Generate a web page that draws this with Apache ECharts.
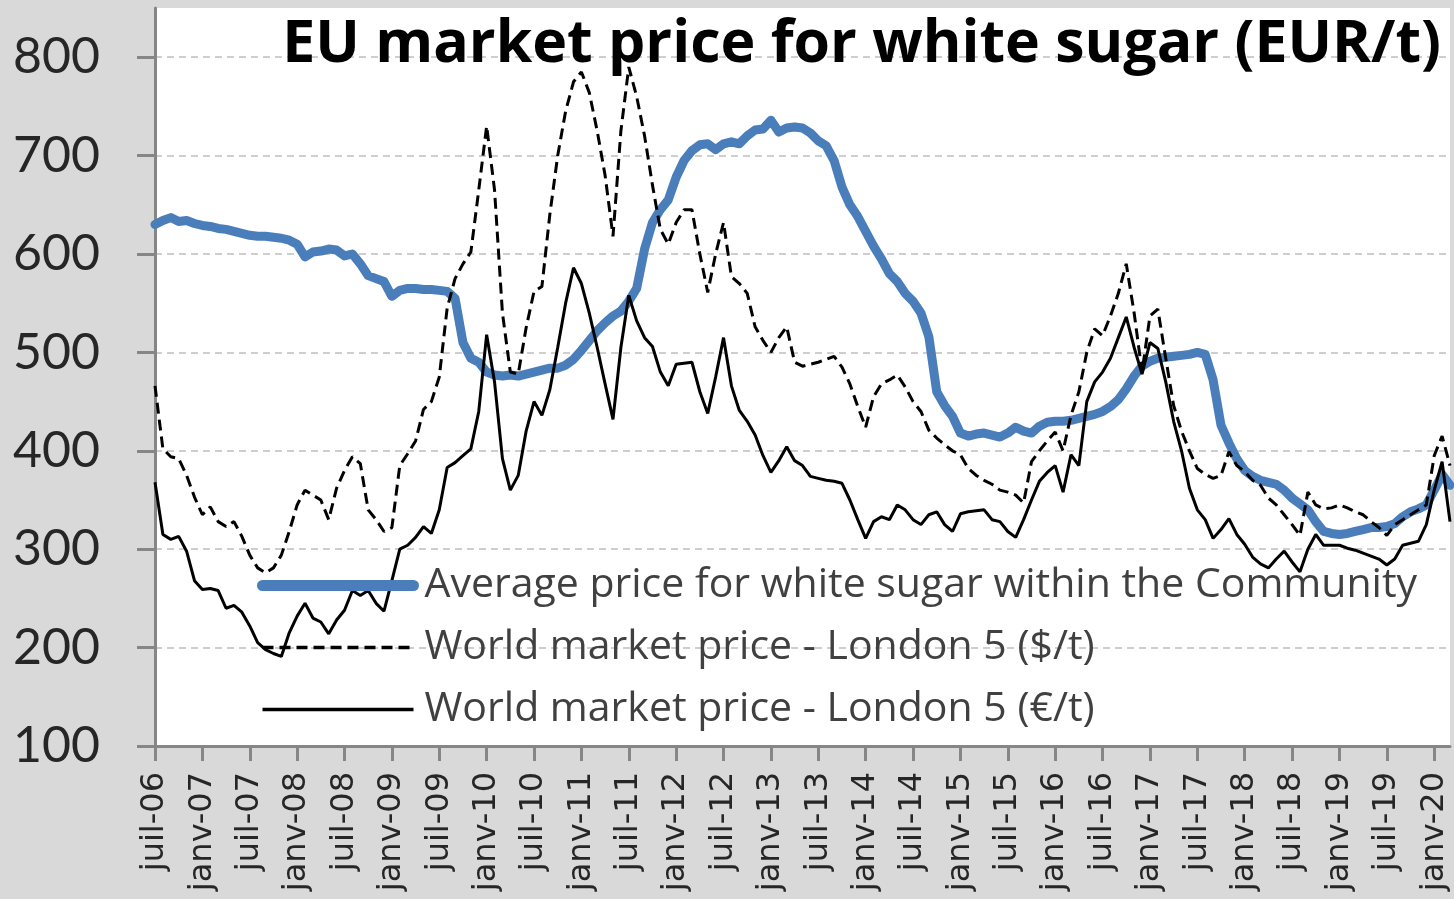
<!DOCTYPE html>
<html>
<head>
<meta charset="utf-8">
<script src="https://cdn.jsdelivr.net/npm/echarts@6/dist/echarts.min.js"></script>
<style>
  html, body { margin: 0; padding: 0; background: #d9d9d9; }
  #chart { width: 1454px; height: 899px; }
</style>
</head>
<body>
<div id="chart"></div>
<script>
// monthly, juil-06 .. mars-20
const monthNames = ['janv', 'févr', 'mars', 'avr', 'mai', 'juin', 'juil', 'août', 'sept', 'oct', 'nov', 'déc']
const months = []
for (let i = 0; i < 165; i++) {
  const m = (6 + i) % 12
  const y = 6 + Math.floor((6 + i) / 12)
  months.push(monthNames[m] + '-' + String(y).padStart(2, '0'))
}

const yTicks = [100, 200, 300, 400, 500, 600, 700, 800]

// Average price for white sugar within the Community (EUR/t)
const euPrice = [
  630, 634, 637, 633, 634, 631, 629, 628, 626, 625, 623, 621, 619, 618, 618, 617, 616, 614, 610, 597,
  602, 603, 605, 604, 598, 600, 590, 578, 575, 572, 557, 563, 565, 565, 564, 564, 563, 562, 555, 510,
  494, 490, 480, 477, 476, 477, 476, 478, 480, 482, 484, 484, 487, 493, 502, 512, 522, 530, 537, 542,
  552, 565, 605, 632, 645, 655, 678, 695, 705, 711, 712, 706, 712, 714, 712, 720, 726, 727, 736, 724,
  728, 729, 728, 723, 715, 710, 695, 668, 650, 638, 623, 608, 595, 580, 572, 560, 552, 540, 516, 460,
  446, 435, 418, 415, 417, 418, 416, 414, 418, 424, 420, 418, 425, 429, 430, 430, 431, 433, 435, 437,
  440, 445, 452, 463, 476, 486, 491, 494, 495, 496, 497, 498, 500, 498, 472, 426, 408, 392, 380, 374,
  370, 368, 366, 360, 352, 346, 340, 328, 318, 316, 315, 316, 318, 320, 322, 322, 323, 326, 333, 338,
  341, 345, 360, 376, 365
]

// World market price - London 5 ($/t)
const londonUsd = [
  466, 402, 394, 392, 375, 353, 335, 343, 328, 323, 328, 313, 294, 281, 276, 281, 294, 318, 345, 360,
  355, 350, 330, 362, 380, 394, 387, 340, 330, 318, 322, 385, 397, 410, 442, 450, 475, 545, 575, 590,
  602, 665, 730, 665, 540, 480, 478, 525, 562, 567, 640, 700, 745, 775, 785, 764, 725, 680, 618, 725,
  790, 760, 720, 670, 625, 610, 632, 645, 645, 600, 561, 600, 632, 577, 570, 560, 526, 512, 500, 515,
  526, 490, 486, 488, 490, 493, 496, 485, 468, 445, 424, 455, 468, 472, 477, 465, 450, 440, 421, 413,
  406, 400, 396, 382, 375, 370, 366, 360, 358, 355, 347, 389, 400, 410, 419, 400, 436, 460, 500, 524,
  517, 537, 560, 590, 540, 480, 537, 544, 494, 446, 420, 400, 382, 376, 372, 375, 399, 385, 379, 370,
  365, 352, 345, 335, 325, 314, 358, 345, 341, 342, 345, 342, 338, 335, 328, 322, 314, 325, 330, 335,
  340, 345, 395, 415, 385
]

// World market price - London 5 (€/t)
const londonEur = [
  368, 315, 310, 313, 298, 268, 259, 260, 258, 240, 243, 236, 222, 205, 198, 194, 191, 215, 232, 245,
  230, 226, 214, 228, 238, 258, 253, 258, 245, 237, 268, 300, 304, 312, 323, 316, 340, 383, 388, 395,
  402, 440, 518, 470, 392, 360, 375, 420, 450, 436, 462, 505, 550, 586, 570, 540, 505, 468, 432, 505,
  558, 532, 515, 506, 480, 466, 488, 489, 490, 460, 438, 475, 515, 466, 441, 430, 416, 395, 378, 390,
  404, 390, 385, 374, 372, 370, 369, 367, 350, 330, 311, 328, 333, 330, 345, 340, 330, 325, 335, 338,
  325, 318, 336, 338, 339, 340, 330, 328, 318, 312, 330, 350, 369, 378, 385, 358, 396, 385, 450, 470,
  480, 494, 515, 536, 505, 478, 510, 504, 470, 430, 400, 362, 340, 330, 311, 320, 331, 315, 305, 292,
  285, 281, 290, 298, 287, 277, 300, 315, 304, 304, 304, 301, 299, 296, 293, 290, 284, 290, 304, 306,
  308, 325, 360, 389, 328
]

const seriesNames = [
  'Average price for white sugar within the Community',
  'World market price - London 5 ($/t)',
  'World market price - London 5 (€/t)'
]

const axisGray = '#868686'
const blue = '#4a7ebb'
const noSymbol = { color: 'rgba(0,0,0,0)', borderWidth: 0 }

const chart = echarts.init(document.getElementById('chart'))

const option = {
  backgroundColor: '#d9d9d9',
  animation: false,
  title: {
    text: 'EU market price for white sugar (EUR/t)',
    right: 8,
    top: 11,
    textStyle: {
      fontFamily: 'Open Sans',
      fontWeight: 'bold',
      fontSize: 59,
      color: '#000'
    }
  },
  legend: {
    orient: 'vertical',
    left: 257,
    top: 565,
    padding: 0,
    itemWidth: 151,
    itemHeight: 14,
    itemGap: 21,
    textStyle: {
      fontFamily: 'Open Sans',
      fontSize: 41,
      lineHeight: 40,
      color: '#404040',
      padding: [0, 0, 0, 6]
    },
    data: [
      { name: seriesNames[0], itemStyle: noSymbol, lineStyle: { width: 11, color: blue, cap: 'round' } },
      { name: seriesNames[1], itemStyle: noSymbol, lineStyle: { width: 3.5, color: '#000', type: [11, 6] } },
      { name: seriesNames[2], itemStyle: noSymbol, lineStyle: { width: 3.5, color: '#000' } }
    ]
  },
  grid: {
    left: 155,
    right: 4,
    top: 8,
    bottom: 153,
    show: true,
    backgroundColor: '#ffffff',
    borderWidth: 0
  },
  xAxis: {
    type: 'category',
    data: months,
    boundaryGap: false,
    axisLine: { lineStyle: { color: axisGray, width: 3 } },
    axisTick: {
      interval: 5,
      length: 15,
      lineStyle: { color: axisGray, width: 3 }
    },
    axisLabel: {
      interval: 5,
      rotate: 90,
      margin: 26,
      fontFamily: 'DejaVu Sans',
      fontSize: 32,
      color: '#262626'
    },
    splitLine: { show: false }
  },
  yAxis: {
    type: 'value',
    min: 100,
    max: 850,
    interval: 100,
    axisLine: { show: true, lineStyle: { color: axisGray, width: 3 } },
    axisTick: {
      show: true,
      length: 18,
      customValues: yTicks,
      lineStyle: { color: axisGray, width: 3 }
    },
    axisLabel: {
      customValues: yTicks,
      margin: 55,
      fontFamily: 'Lato',
      fontSize: 50,
      color: '#262626'
    },
    splitLine: {
      show: true,
      lineStyle: { color: '#bfbfbf', width: 1.5, type: [7, 5] }
    }
  },
  series: [
    {
      name: seriesNames[0],
      type: 'line',
      data: euPrice,
      symbol: 'none',
      lineStyle: { color: blue, width: 9, cap: 'round', join: 'round' },
      itemStyle: { color: blue }
    },
    {
      name: seriesNames[1],
      type: 'line',
      data: londonUsd,
      symbol: 'none',
      lineStyle: { color: '#000', width: 3, type: [11, 6] },
      itemStyle: { color: '#000' }
    },
    {
      name: seriesNames[2],
      type: 'line',
      data: londonEur,
      symbol: 'none',
      lineStyle: { color: '#000', width: 3 },
      itemStyle: { color: '#000' }
    }
  ]
}

chart.setOption(option)
</script>
</body>
</html>
